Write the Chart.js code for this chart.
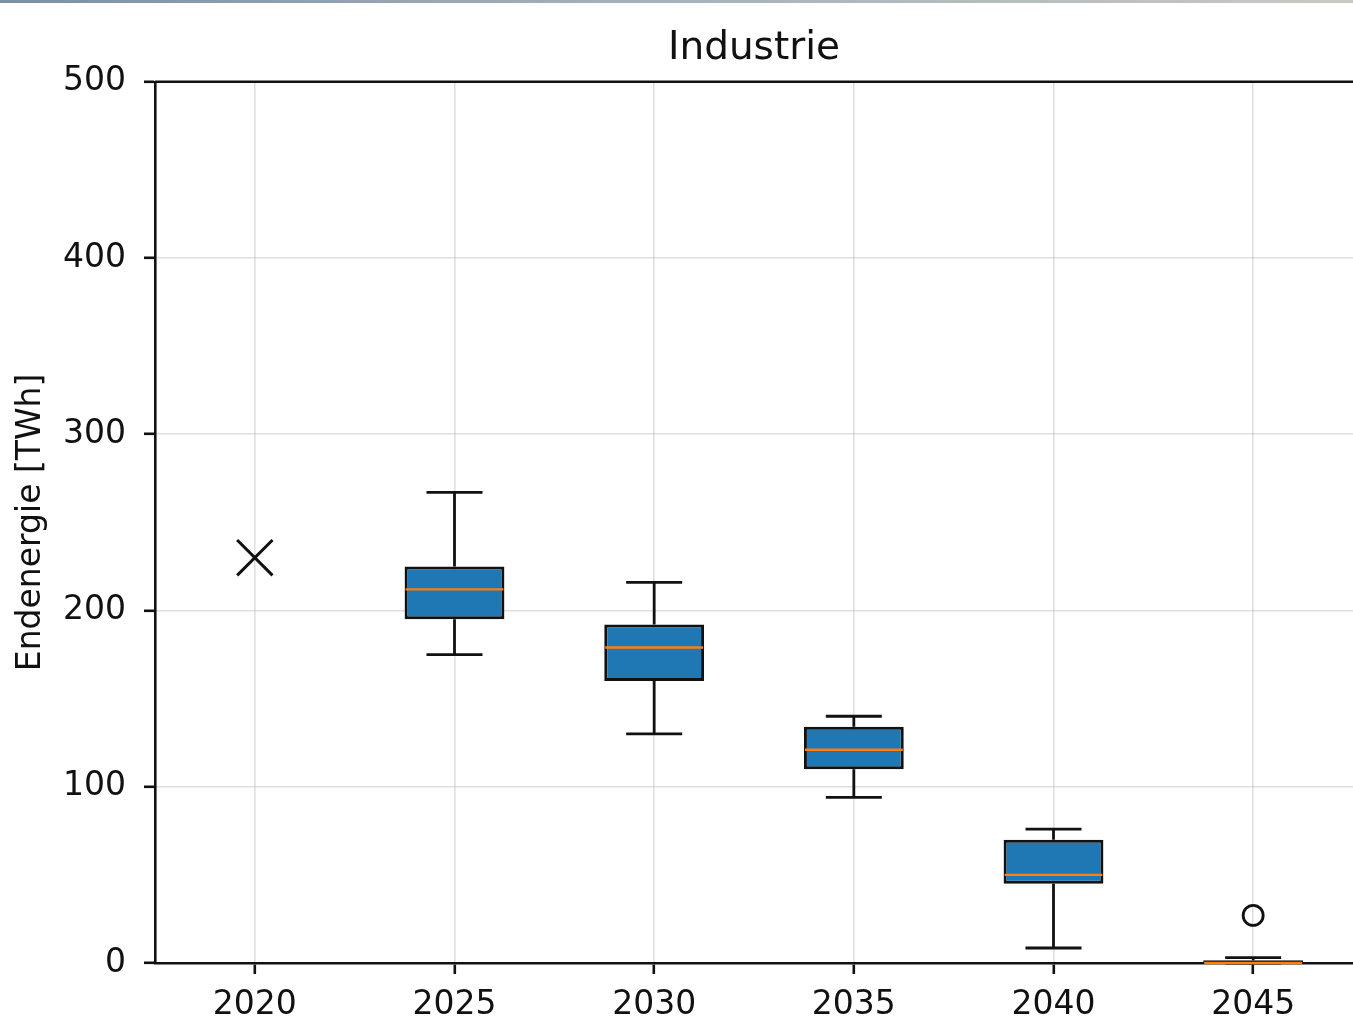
<!DOCTYPE html>
<html>
<head>
<meta charset="utf-8">
<title>Industrie</title>
<script src="https://cdn.jsdelivr.net/npm/chart.js@4.4.1/dist/chart.umd.min.js"></script>
<style>
  html, body { margin: 0; padding: 0; background: #fff; overflow: hidden; }
  #wrap { position: relative; width: 1353px; height: 1017px; }
  #topbar {
    position: absolute; left: 0; top: 0; width: 1353px; height: 3px;
    background: linear-gradient(to right, #7c90a2, #a3b0ba 45%, #c8c9c2);
  }
</style>
</head>
<body>
<div id="wrap">
  <canvas id="boxChart" width="1353" height="1017"></canvas>
  <div id="topbar"></div>
</div>
<script>
// values (TWh)
const years = ["2020", "2025", "2030", "2035", "2040", "2045"];
const whiskerLow = [null, 175, 130, 94, 8.5, 0];
const q1 = [null, 195, 160, 110, 45, 0];
const medians = [null, 212, 179, 121, 50, 0];
const q3 = [null, 225, 192, 134, 70, 1.5];
const whiskerHigh = [null, 267, 216, 140, 76, 3];
const refPoints = [230, null, null, null, null, null]; // 2020 value (X marker)
const fliers = [null, null, null, null, null, 27];
const yTicks = [0, 100, 200, 300, 400, 500];

const FONT = "'DejaVu Sans', 'Liberation Sans', sans-serif";
const INK = "#111";

const boxes = years.map((_, i) => (q1[i] == null ? null : [q1[i], q3[i]]));

// whiskers, caps and medians, drawn through the chart scales
const boxWhiskers = {
  id: "boxWhiskers",
  afterDatasetsDraw(chart) {
    const { ctx, scales } = chart;
    const x = scales.x, y = scales.y;
    const meta = chart.getDatasetMeta(0);
    ctx.save();
    years.forEach((yr, i) => {
      if (medians[i] == null) return;
      const cx = x.getPixelForValue(i);
      const cap = 28;
      ctx.strokeStyle = INK;
      ctx.lineWidth = 2.8;
      ctx.beginPath();
      ctx.moveTo(cx, y.getPixelForValue(q3[i]));
      ctx.lineTo(cx, y.getPixelForValue(whiskerHigh[i]));
      ctx.moveTo(cx, y.getPixelForValue(q1[i]));
      ctx.lineTo(cx, y.getPixelForValue(whiskerLow[i]));
      ctx.moveTo(cx - cap, y.getPixelForValue(whiskerHigh[i]));
      ctx.lineTo(cx + cap, y.getPixelForValue(whiskerHigh[i]));
      ctx.moveTo(cx - cap, y.getPixelForValue(whiskerLow[i]));
      ctx.lineTo(cx + cap, y.getPixelForValue(whiskerLow[i]));
      ctx.stroke();

      const bar = meta.data[i];
      const half = bar.width / 2;
      const my = y.getPixelForValue(medians[i]);
      ctx.strokeStyle = "#ff7f0e";
      ctx.lineWidth = 2.4;
      ctx.beginPath();
      ctx.moveTo(bar.x - half + 1, my);
      ctx.lineTo(bar.x + half - 1, my);
      ctx.stroke();
    });
    ctx.restore();
  }
};

// top spine
const topSpine = {
  id: "topSpine",
  afterDraw(chart) {
    const { ctx, chartArea } = chart;
    ctx.save();
    ctx.strokeStyle = INK;
    ctx.lineWidth = 2.6;
    ctx.beginPath();
    ctx.moveTo(chartArea.left, chartArea.top);
    ctx.lineTo(chartArea.right, chartArea.top);
    ctx.stroke();
    ctx.restore();
  }
};

const ctx = document.getElementById("boxChart").getContext("2d");
new Chart(ctx, {
  type: "bar",
  data: {
    labels: years,
    datasets: [
      {
        label: "Box",
        data: boxes,
        backgroundColor: "#1f77b4",
        borderColor: INK,
        borderWidth: 3,
        borderSkipped: false,
        categoryPercentage: 1,
        barPercentage: 0.5,
        order: 2
      },
      {
        type: "line",
        label: "2020",
        data: refPoints,
        showLine: false,
        pointStyle: "crossRot",
        pointRadius: 25,
        borderColor: INK,
        borderWidth: 3,
        order: 1
      },
      {
        type: "line",
        label: "Ausreißer",
        data: fliers,
        showLine: false,
        pointStyle: "circle",
        pointRadius: 10,
        backgroundColor: "rgba(0,0,0,0)",
        borderColor: INK,
        borderWidth: 2.8,
        order: 1
      }
    ]
  },
  plugins: [boxWhiskers, topSpine],
  options: {
    responsive: false,
    animation: false,
    layout: { padding: 0, autoPadding: false },
    plugins: {
      legend: { display: false },
      tooltip: { enabled: false },
      title: {
        display: true,
        text: "Industrie",
        fullSize: false,
        color: INK,
        font: { family: FONT, size: 39, weight: "normal" },
        padding: { top: 25, bottom: 10 }
      }
    },
    scales: {
      x: {
        offset: true,
        grid: {
          offset: false,
          color: "rgba(176,176,176,0.4)",
          lineWidth: 1.6,
          drawTicks: true,
          tickLength: 11,
          tickColor: INK,
          tickWidth: 2.6
        },
        border: { color: INK, width: 2.6 },
        ticks: {
          color: INK,
          padding: 12,
          maxRotation: 0,
          font: { family: FONT, size: 33 }
        },
        afterFit(scale) {
          scale.height = 54;
          scale.paddingLeft = 0;
          scale.paddingRight = 0;
        }
      },
      y: {
        min: 0,
        max: 500,
        afterBuildTicks(scale) { scale.ticks = yTicks.map(v => ({ value: v })); },
        grid: {
          color: "rgba(176,176,176,0.4)",
          lineWidth: 1.6,
          tickLength: 11,
          tickColor: INK,
          tickWidth: 2.6
        },
        border: { color: INK, width: 2.6 },
        ticks: {
          color: INK,
          padding: 18,
          font: { family: FONT, size: 33 }
        },
        title: {
          display: true,
          text: "Endenergie [TWh]",
          color: INK,
          font: { family: FONT, size: 33 },
          padding: { top: 12, bottom: 0 }
        },
        afterFit(scale) {
          scale.width = 155;
          scale.paddingTop = 0;
          scale.paddingBottom = 0;
        }
      }
    }
  }
});
</script>
</body>
</html>
